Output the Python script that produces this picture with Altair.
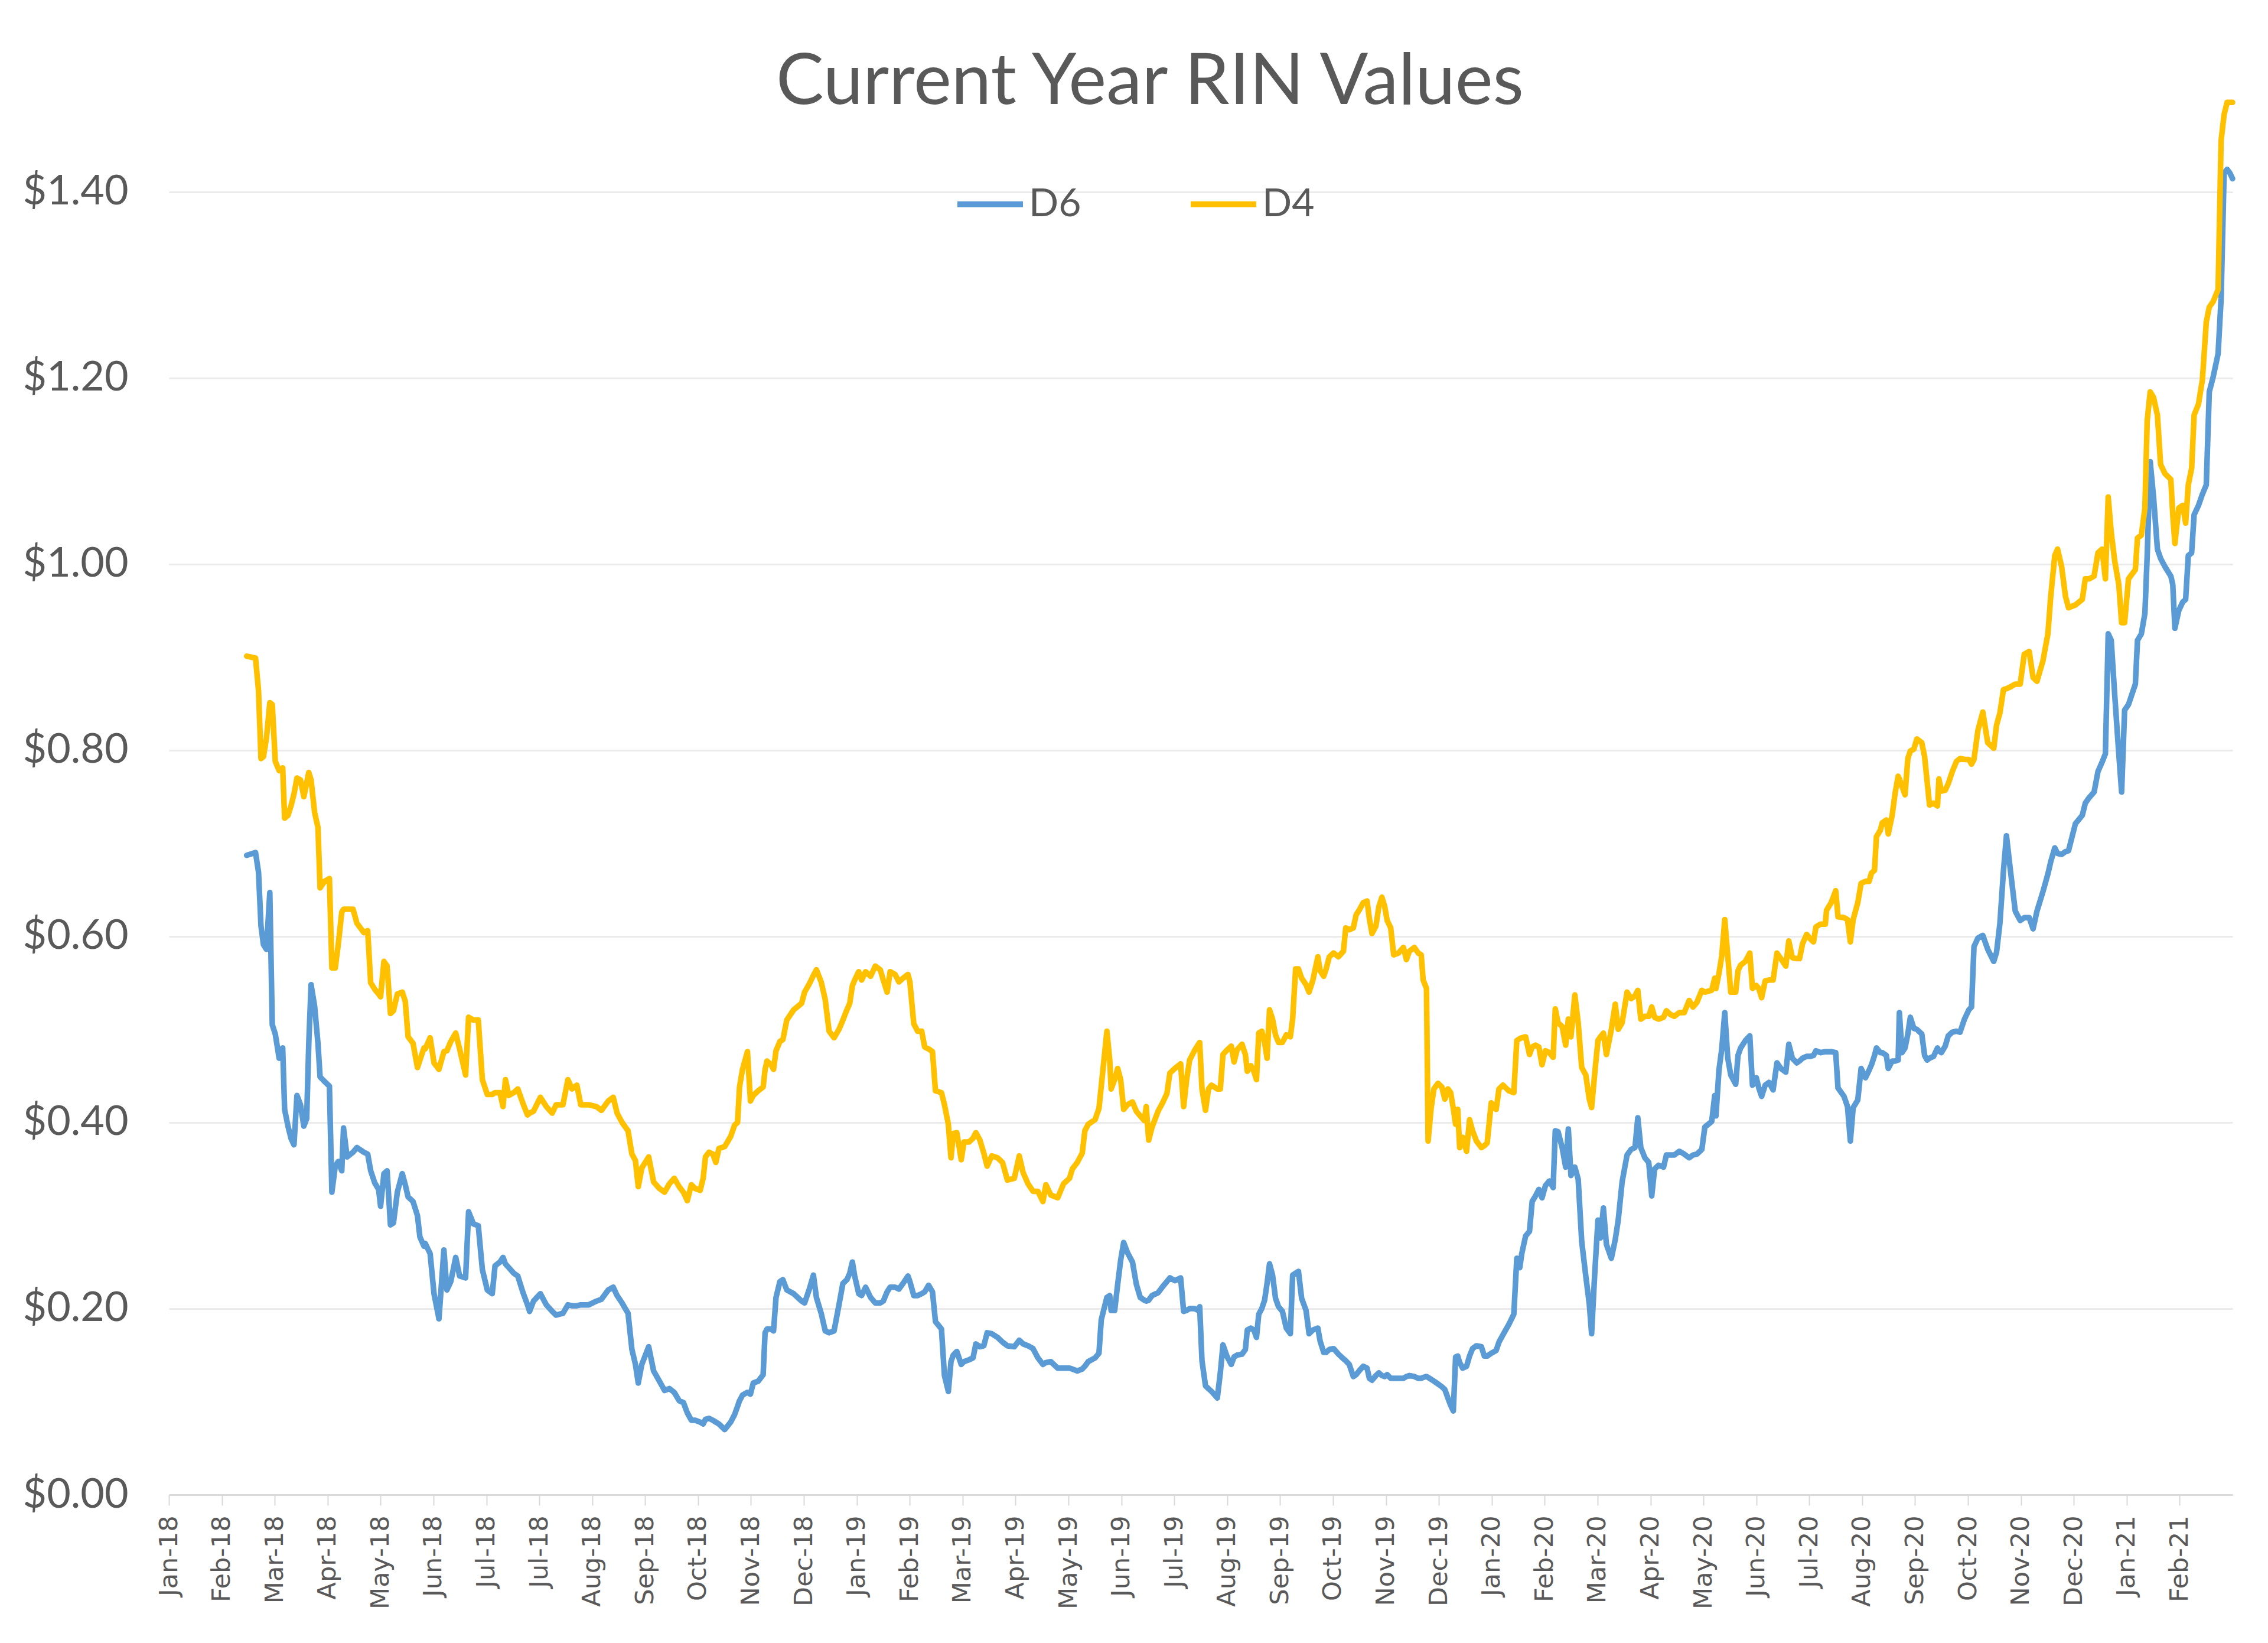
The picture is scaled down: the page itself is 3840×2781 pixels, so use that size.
import altair as alt
import pandas as pd

TITLE = "Current Year RIN Values"
SERIES = ["D6", "D4"]
COLORS = ["#5B9BD5", "#FFC000"]

# Axis labels: one label every 30 days from 2 Jan 2018 (as in the source chart)
TICK_LABELS = ["Jan-18", "Feb-18", "Mar-18", "Apr-18", "May-18", "Jun-18", "Jul-18", "Jul-18",
               "Aug-18", "Sep-18", "Oct-18", "Nov-18", "Dec-18", "Jan-19", "Feb-19", "Mar-19",
               "Apr-19", "May-19", "Jun-19", "Jul-19", "Aug-19", "Sep-19", "Oct-19", "Nov-19",
               "Dec-19", "Jan-20", "Feb-20", "Mar-20", "Apr-20", "May-20", "Jun-20", "Jul-20",
               "Aug-20", "Sep-20", "Oct-20", "Nov-20", "Dec-20", "Jan-21", "Feb-21"]
TICK_STEP_DAYS = 30
AXIS_END_DAY = 1170
Y_TICKS = [0.0, 0.2, 0.4, 0.6, 0.8, 1.0, 1.2, 1.4]

DAY = [
    44.1, 49.1, 50.8, 52.2, 53.6, 55.3, 57.2, 58.6, 60.3, 62.5, 64.5, 65.6, 67.5, 69.2, 70.9, 72.6,
    74.6, 76.5, 78.1, 79.3, 80.6, 82.6, 84.5, 85.7, 88.2, 91.0, 92.4, 94.3, 96.0, 98.0, 99.0, 101.0,
    104.4, 106.6, 110.5, 112.7, 114.4, 116.7, 118.9, 120.0, 121.9, 123.7, 125.6, 127.3, 129.5, 132.3,
    134.0, 135.6, 138.4, 140.9, 142.3, 144.6,
    145.3, 148.1, 150.3, 153.1, 155.9, 157.6, 159.8, 162.6, 164.8, 168.2, 169.9, 172.6, 175.4, 177.7,
    180.5, 183.3, 184.9, 187.7, 189.4, 190.8, 192.7, 195.5, 197.8, 200.6, 203.3, 204.5, 206.7, 210.6,
    214.0, 217.3, 219.5, 223.4, 226.2, 228.5, 231.3, 233.5, 238.0, 242.4, 245.2, 249.1, 251.9, 254.1,
    256.9, 260.3, 262.5, 264.5, 266.1, 268.1, 272.0, 274.8, 278.1, 281.0, 283.7, 286.5, 289.3,
    291.7, 293.9, 296.2, 298.4, 301.2, 302.9, 304.2, 306.2, 308.4, 310.1, 311.8, 315.1, 318.5, 320.7,
    322.4, 323.5, 325.2, 328.0, 329.7, 331.3, 334.1, 336.9, 338.0, 339.1, 341.4, 342.8, 344.2, 346.4,
    348.1, 350.3, 354.2, 358.7, 360.4, 363.1, 365.4, 367.1, 369.8, 372.1, 374.3, 377.1, 379.9, 382.1,
    384.4, 386.0, 387.5, 388.8, 391.1, 392.7, 395.0, 397.8, 400.5, 403.3, 405.0, 407.2, 408.9, 411.7,
    413.9, 416.2, 419.0, 420.1, 422.3, 424.5, 426.8, 428.5, 430.7, 432.9, 434.6,
    438.0, 439.7, 441.9, 443.4, 444.7, 446.7, 449.2, 450.8, 453.6, 455.9, 457.5, 459.8, 462.0, 463.9,
    466.5, 469.8, 472.6, 475.4, 479.3, 482.1, 484.3, 487.1, 489.9, 492.7, 495.5, 497.2, 500.0, 503.9,
    507.2, 510.6, 512.2, 515.0, 517.8, 519.3, 521.2, 525.1, 527.3, 528.6, 531.8, 533.4, 534.2, 536.2,
    537.9, 539.6, 541.3, 543.5, 546.3, 548.5, 550.7, 553.0, 554.1, 555.5, 557.4, 560.8, 563.6, 565.8,
    567.5, 570.3, 573.6, 575.3, 577.0, 578.7, 581.4, 583.7,
    584.4, 585.7, 587.7, 589.4, 591.1, 594.4, 596.1, 597.6, 600.0, 602.3, 603.9, 605.6, 608.4, 610.3,
    611.4, 613.4, 615.1, 616.6, 617.9, 619.6, 621.2, 622.6, 624.0, 625.7, 627.4, 629.1, 631.3, 633.5,
    635.8, 637.1, 638.8, 640.4, 642.2, 644.7, 646.4, 648.6, 651.4, 652.7, 654.7, 656.1, 657.9, 660.3,
    663.1, 665.9, 667.2, 669.2, 671.5, 673.1, 674.8, 677.1, 679.3, 680.6, 682.1, 684.3, 686.0, 687.7,
    689.3, 690.7, 692.7, 694.4, 697.1, 699.9, 701.6, 703.3, 706.1, 708.3, 710.0, 711.1, 713.0, 713.9,
    715.6, 717.2, 719.5, 721.7, 723.4, 725.1, 726.7, 728.2, 729.5,
    730.7, 731.8, 733.5, 735.7, 737.4, 739.1, 741.3, 744.1, 745.8, 747.4, 749.7, 752.5, 754.1, 756.4,
    759.7, 762.5, 764.2, 765.9, 767.0, 769.2, 771.4, 772.9, 774.8, 776.7, 778.5, 780.4, 782.6, 784.8,
    786.0, 787.6, 789.9, 791.9, 793.4, 794.9, 797.1, 799.0, 801.0, 803.3, 805.3, 806.6, 808.3, 810.2,
    811.6, 813.3, 815.0, 817.8, 820.0, 821.7, 823.9, 826.7, 829.0, 831.2, 832.8, 834.5, 836.8, 839.0,
    840.7, 842.3, 844.6, 847.4, 849.0, 851.3, 853.5, 856.3, 859.1, 861.9, 864.1, 866.3, 869.1, 870.8,
    874.7, 876.4,
    877.1, 878.8, 880.4, 882.1, 883.8, 885.5, 888.3, 889.6, 891.1, 893.8, 896.3, 897.8, 900.0, 901.4,
    903.0, 905.0, 907.2, 909.5, 911.7, 913.9, 916.7, 918.4, 920.4, 922.9, 924.5, 926.2, 928.5, 930.7,
    932.4, 933.8, 936.3, 939.1, 939.8, 942.4, 945.0, 946.3, 949.7, 951.7, 953.3, 954.9, 957.5, 959.4,
    961.9, 963.9, 965.3, 967.0, 968.1, 970.3, 971.4, 973.7, 974.8, 977.0, 978.7, 980.4, 981.1, 982.6,
    984.3, 985.9, 987.3, 989.3, 991.0, 993.8, 995.4, 996.8, 998.2, 1000.5, 1002.7, 1003.5, 1004.9,
    1007.1, 1008.8, 1011.1, 1013.5, 1015.5, 1018.0, 1020.5, 1022.0,
    1023.4, 1025.6, 1028.4, 1031.2, 1034.6, 1036.2, 1038.1, 1040.1, 1041.8, 1044.1, 1046.8, 1049.6,
    1051.9, 1054.7, 1056.9, 1059.1, 1062.5, 1065.3, 1066.9, 1069.2, 1070.8, 1073.1, 1075.3, 1077.0,
    1080.9, 1084.8, 1086.5, 1088.7, 1091.5, 1093.7, 1096.0, 1097.9, 1099.5, 1101.2, 1103.2, 1105.5,
    1107.1, 1108.8, 1111.0, 1113.3, 1114.9, 1116.1, 1118.3, 1120.3, 1121.6, 1123.3, 1125.2, 1127.4,
    1129.2, 1131.7, 1135.0, 1136.1, 1137.3, 1139.5, 1141.7, 1143.4, 1144.9, 1146.8, 1148.2, 1150.7,
    1152.9, 1155.1, 1156.8, 1159.0, 1161.8, 1163.5, 1165.2, 1166.9, 1168.5, 1170.0,
]

D6 = [
    0.687, 0.690, 0.669, 0.611, 0.591, 0.586, 0.647, 0.505, 0.495, 0.469, 0.480, 0.414, 0.396, 0.383,
    0.376, 0.429, 0.419, 0.396, 0.404, 0.485, 0.548, 0.525, 0.485, 0.449, 0.444, 0.439, 0.325, 0.353,
    0.358, 0.348, 0.394, 0.363, 0.368, 0.373, 0.368, 0.366, 0.348, 0.335, 0.328, 0.310, 0.345, 0.348,
    0.290, 0.292, 0.325, 0.345, 0.333, 0.320, 0.315, 0.300, 0.277, 0.267,
    0.270, 0.259, 0.216, 0.189, 0.263, 0.220, 0.229, 0.255, 0.235, 0.233, 0.304, 0.291, 0.289, 0.242,
    0.220, 0.216, 0.246, 0.250, 0.255, 0.248, 0.244, 0.238, 0.235, 0.218, 0.204, 0.197, 0.208, 0.216,
    0.204, 0.197, 0.193, 0.195, 0.204, 0.203, 0.203, 0.204, 0.204, 0.208, 0.210, 0.220, 0.223, 0.214,
    0.206, 0.195, 0.156, 0.140, 0.120, 0.140, 0.159, 0.133, 0.122, 0.112, 0.114, 0.110, 0.101,
    0.099, 0.088, 0.080, 0.080, 0.078, 0.076, 0.081, 0.082, 0.080, 0.078, 0.076, 0.070, 0.078, 0.086,
    0.095, 0.101, 0.107, 0.110, 0.108, 0.120, 0.122, 0.129, 0.174, 0.178, 0.178, 0.176, 0.212, 0.229,
    0.231, 0.220, 0.216, 0.208, 0.206, 0.221, 0.236, 0.212, 0.195, 0.176, 0.174, 0.176, 0.204, 0.227,
    0.231, 0.238, 0.250, 0.235, 0.216, 0.214, 0.223, 0.212, 0.206, 0.206, 0.208, 0.218, 0.223, 0.223,
    0.221, 0.227, 0.235, 0.229, 0.214, 0.214, 0.216, 0.218, 0.225, 0.218, 0.186,
    0.178, 0.128, 0.111, 0.143, 0.150, 0.154, 0.140, 0.143, 0.145, 0.147, 0.162, 0.159, 0.160, 0.174,
    0.173, 0.169, 0.164, 0.160, 0.159, 0.166, 0.162, 0.160, 0.157, 0.147, 0.140, 0.142, 0.143, 0.136,
    0.136, 0.136, 0.135, 0.133, 0.135, 0.138, 0.143, 0.147, 0.152, 0.188, 0.212, 0.214, 0.198, 0.198,
    0.226, 0.252, 0.271, 0.260, 0.250, 0.226, 0.212, 0.209, 0.208, 0.209, 0.214, 0.217, 0.224, 0.229,
    0.233, 0.230, 0.233, 0.197, 0.198, 0.200, 0.200, 0.198,
    0.202, 0.144, 0.117, 0.114, 0.111, 0.104, 0.131, 0.161, 0.148, 0.140, 0.148, 0.150, 0.151, 0.156,
    0.177, 0.179, 0.177, 0.169, 0.194, 0.200, 0.209, 0.227, 0.248, 0.236, 0.211, 0.202, 0.197, 0.179,
    0.173, 0.236, 0.238, 0.240, 0.211, 0.198, 0.173, 0.177, 0.179, 0.165, 0.153, 0.153, 0.156, 0.157,
    0.151, 0.146, 0.144, 0.140, 0.127, 0.129, 0.133, 0.138, 0.136, 0.125, 0.123, 0.128, 0.131, 0.128,
    0.127, 0.129, 0.125, 0.125, 0.125, 0.125, 0.127, 0.128, 0.127, 0.125, 0.125, 0.126, 0.127, 0.126,
    0.124, 0.122, 0.119, 0.116, 0.113, 0.104, 0.096, 0.090, 0.148,
    0.149, 0.142, 0.136, 0.138, 0.149, 0.157, 0.160, 0.159, 0.149, 0.149, 0.152, 0.155, 0.164, 0.172,
    0.183, 0.194, 0.254, 0.244, 0.259, 0.278, 0.283, 0.315, 0.321, 0.328, 0.319, 0.332, 0.337, 0.330,
    0.391, 0.390, 0.373, 0.352, 0.393, 0.343, 0.352, 0.339, 0.272, 0.235, 0.205, 0.173, 0.235, 0.295,
    0.276, 0.308, 0.269, 0.254, 0.274, 0.295, 0.336, 0.365, 0.371, 0.373, 0.405, 0.373, 0.362, 0.357,
    0.321, 0.350, 0.354, 0.352, 0.365, 0.365, 0.365, 0.369, 0.366, 0.362, 0.365, 0.366, 0.371, 0.395,
    0.401, 0.429,
    0.407, 0.456, 0.479, 0.518, 0.469, 0.451, 0.441, 0.472, 0.480, 0.488, 0.493, 0.440, 0.448, 0.437,
    0.428, 0.440, 0.443, 0.435, 0.464, 0.458, 0.454, 0.484, 0.469, 0.464, 0.466, 0.469, 0.471, 0.471,
    0.472, 0.477, 0.475, 0.476, 0.476, 0.476, 0.475, 0.437, 0.428, 0.417, 0.380, 0.416, 0.424, 0.458,
    0.448, 0.456, 0.462, 0.472, 0.480, 0.475, 0.475, 0.472, 0.458, 0.466, 0.466, 0.467, 0.518, 0.475,
    0.480, 0.495, 0.513, 0.501, 0.500, 0.495, 0.472, 0.467, 0.469, 0.471, 0.480, 0.477, 0.475, 0.482,
    0.493, 0.497, 0.498, 0.497, 0.511, 0.521, 0.524,
    0.589, 0.598, 0.601, 0.586, 0.573, 0.583, 0.614, 0.670, 0.708, 0.670, 0.627, 0.617, 0.620, 0.620,
    0.608, 0.627, 0.648, 0.667, 0.680, 0.695, 0.689, 0.688, 0.691, 0.692, 0.721, 0.730, 0.743, 0.749,
    0.755, 0.777, 0.787, 0.796, 0.925, 0.918, 0.859, 0.796, 0.755, 0.843, 0.849, 0.862, 0.871, 0.918,
    0.925, 0.947, 1.009, 1.110, 1.072, 1.016, 1.006, 0.997, 0.987, 0.978, 0.931, 0.950, 0.959, 0.962,
    1.009, 1.012, 1.053, 1.063, 1.075, 1.085, 1.185, 1.201, 1.226, 1.285, 1.420, 1.424, 1.420, 1.414,
]

D4 = [
    0.901, 0.899, 0.864, 0.791, 0.793, 0.813, 0.851, 0.849, 0.788, 0.778, 0.781, 0.727, 0.730, 0.740,
    0.753, 0.770, 0.768, 0.750, 0.765, 0.776, 0.768, 0.733, 0.717, 0.652, 0.659, 0.662, 0.566, 0.566,
    0.591, 0.626, 0.629, 0.629, 0.629, 0.614, 0.604, 0.606, 0.550, 0.543, 0.538, 0.535, 0.573, 0.568,
    0.517, 0.520, 0.538, 0.540, 0.530, 0.492, 0.485, 0.459, 0.467, 0.480,
    0.479, 0.491, 0.464, 0.457, 0.476, 0.477, 0.487, 0.496, 0.479, 0.451, 0.513, 0.510, 0.510, 0.446,
    0.430, 0.430, 0.432, 0.432, 0.417, 0.446, 0.429, 0.432, 0.436, 0.421, 0.408, 0.410, 0.412, 0.427,
    0.417, 0.410, 0.419, 0.419, 0.446, 0.436, 0.440, 0.419, 0.419, 0.417, 0.413, 0.423, 0.427, 0.410,
    0.400, 0.391, 0.366, 0.359, 0.331, 0.351, 0.363, 0.336, 0.329, 0.325, 0.334, 0.340, 0.331,
    0.325, 0.316, 0.333, 0.329, 0.327, 0.340, 0.363, 0.368, 0.366, 0.357, 0.372, 0.374, 0.385, 0.397,
    0.400, 0.438, 0.457, 0.476, 0.423, 0.429, 0.434, 0.438, 0.457, 0.466, 0.462, 0.457, 0.477, 0.487,
    0.489, 0.510, 0.521, 0.528, 0.540, 0.549, 0.558, 0.564, 0.551, 0.532, 0.498, 0.491, 0.500, 0.510,
    0.521, 0.528, 0.547, 0.553, 0.562, 0.553, 0.562, 0.557, 0.568, 0.564, 0.553, 0.540, 0.562, 0.559,
    0.551, 0.555, 0.559, 0.551, 0.506, 0.498, 0.498, 0.481, 0.479, 0.476, 0.434,
    0.432, 0.419, 0.398, 0.362, 0.388, 0.389, 0.360, 0.379, 0.379, 0.383, 0.389, 0.381, 0.367, 0.353,
    0.364, 0.362, 0.357, 0.338, 0.340, 0.364, 0.346, 0.334, 0.326, 0.326, 0.315, 0.333, 0.322, 0.319,
    0.334, 0.340, 0.350, 0.357, 0.367, 0.391, 0.398, 0.403, 0.415, 0.439, 0.498, 0.467, 0.436, 0.446,
    0.458, 0.446, 0.414, 0.419, 0.422, 0.412, 0.407, 0.402, 0.417, 0.381, 0.395, 0.412, 0.422, 0.431,
    0.453, 0.458, 0.463, 0.417, 0.446, 0.467, 0.477, 0.484,
    0.486, 0.436, 0.413, 0.436, 0.440, 0.436, 0.436, 0.473, 0.478, 0.482, 0.465, 0.478, 0.484, 0.473,
    0.455, 0.461, 0.455, 0.446, 0.496, 0.498, 0.486, 0.469, 0.521, 0.511, 0.494, 0.486, 0.486, 0.494,
    0.492, 0.511, 0.565, 0.565, 0.555, 0.548, 0.540, 0.553, 0.578, 0.563, 0.557, 0.565, 0.578, 0.582,
    0.578, 0.584, 0.609, 0.607, 0.609, 0.623, 0.628, 0.636, 0.638, 0.619, 0.603, 0.611, 0.632, 0.642,
    0.632, 0.617, 0.609, 0.580, 0.582, 0.588, 0.575, 0.584, 0.588, 0.582, 0.580, 0.553, 0.544, 0.380,
    0.415, 0.436, 0.442, 0.438, 0.425, 0.436, 0.432, 0.415, 0.398,
    0.414, 0.373, 0.384, 0.369, 0.403, 0.391, 0.380, 0.373, 0.375, 0.378, 0.421, 0.414, 0.436, 0.440,
    0.434, 0.432, 0.488, 0.490, 0.491, 0.492, 0.473, 0.481, 0.483, 0.481, 0.462, 0.477, 0.475, 0.470,
    0.522, 0.507, 0.503, 0.483, 0.511, 0.492, 0.537, 0.507, 0.459, 0.451, 0.425, 0.416, 0.451, 0.488,
    0.492, 0.496, 0.473, 0.500, 0.527, 0.500, 0.507, 0.540, 0.533, 0.536, 0.542, 0.511, 0.514, 0.514,
    0.524, 0.513, 0.511, 0.513, 0.520, 0.516, 0.514, 0.518, 0.518, 0.531, 0.524, 0.529, 0.542, 0.540,
    0.542, 0.555,
    0.544, 0.560, 0.579, 0.618, 0.579, 0.540, 0.540, 0.563, 0.569, 0.573, 0.582, 0.544, 0.547, 0.544,
    0.534, 0.552, 0.553, 0.553, 0.582, 0.576, 0.568, 0.595, 0.577, 0.576, 0.576, 0.592, 0.602, 0.597,
    0.594, 0.610, 0.613, 0.613, 0.628, 0.636, 0.649, 0.621, 0.620, 0.618, 0.594, 0.618, 0.636, 0.657,
    0.659, 0.659, 0.668, 0.671, 0.707, 0.714, 0.722, 0.725, 0.710, 0.730, 0.754, 0.772, 0.769, 0.761,
    0.752, 0.791, 0.799, 0.801, 0.812, 0.808, 0.793, 0.767, 0.741, 0.743, 0.740, 0.769, 0.756, 0.757,
    0.764, 0.777, 0.788, 0.791, 0.790, 0.790, 0.785,
    0.790, 0.821, 0.841, 0.808, 0.802, 0.827, 0.840, 0.865, 0.866, 0.868, 0.871, 0.871, 0.903, 0.906,
    0.878, 0.874, 0.896, 0.925, 0.965, 1.009, 1.016, 0.997, 0.965, 0.953, 0.956, 0.962, 0.984, 0.984,
    0.987, 1.012, 1.016, 0.984, 1.072, 1.034, 1.003, 0.978, 0.937, 0.937, 0.984, 0.990, 0.994, 1.028,
    1.031, 1.060, 1.154, 1.185, 1.179, 1.160, 1.107, 1.097, 1.091, 1.053, 1.022, 1.060, 1.063, 1.044,
    1.085, 1.103, 1.160, 1.172, 1.198, 1.260, 1.276, 1.282, 1.295, 1.455, 1.483, 1.496, 1.496, 1.496,
]

assert len(DAY) == len(D6) == len(D4), (len(DAY), len(D6), len(D4))

rows = []
for name, vals in (("D6", D6), ("D4", D4)):
    for d, v in zip(DAY, vals):
        rows.append({"day": d, "series": name, "price": v})
df = pd.DataFrame(rows)

tick_days = [i * TICK_STEP_DAYS for i in range(len(TICK_LABELS))]
label_array = "[" + ",".join("'" + t + "'" for t in TICK_LABELS) + "]"
label_expr = label_array + "[round(datum.value / " + str(TICK_STEP_DAYS) + ")]"

GREY_TEXT = "#595959"

chart = (
    alt.Chart(df)
    .mark_line(strokeWidth=9.5, strokeJoin="round", strokeCap="round")
    .encode(
        x=alt.X(
            "day:Q",
            scale=alt.Scale(domain=[0, AXIS_END_DAY], nice=False, zero=False),
            axis=alt.Axis(
                values=tick_days, labelExpr=label_expr, title=None, grid=False,
                labelAngle=270, labelAlign="right", labelBaseline="middle",
                labelFont="DejaVu Sans", labelFontSize=43, labelColor=GREY_TEXT,
                labelPadding=17, tickSize=18, tickColor="#D9D9D9", tickWidth=2,
                domainColor="#D9D9D9", domainWidth=3,
                labelOverlap=False, labelFlush=False, labelBound=False,
            ),
        ),
        y=alt.Y(
            "price:Q",
            scale=alt.Scale(domain=[0, 1.5], nice=False, zero=True),
            axis=alt.Axis(
                values=Y_TICKS, format="$.2f", title=None,
                labelFont="Lato", labelFontSize=70, labelColor=GREY_TEXT, labelPadding=69,
                ticks=False, domain=False, grid=True, gridColor="#EBEBEB", gridWidth=3,
            ),
        ),
        color=alt.Color(
            "series:N",
            scale=alt.Scale(domain=SERIES, range=COLORS),
            legend=alt.Legend(
                title=None, orient="none", legendX=1330, legendY=118, direction="horizontal",
                symbolType="stroke", symbolSize=12321, symbolStrokeWidth=10,
                labelFont="Lato", labelFontSize=66, labelColor=GREY_TEXT, labelOffset=5,
                columnPadding=165, padding=0,
            ),
        ),
    )
    .properties(
        width=3494,
        height=2363,
        title=alt.TitleParams(
            TITLE, font="Lato", fontSize=121, fontWeight="normal", color=GREY_TEXT,
            anchor="middle", frame="group", dx=-86, offset=0, dy=130, baseline="alphabetic",
        ),
        autosize=alt.AutoSizeParams(type="none"),
        padding={"left": 278, "top": 159, "right": 50, "bottom": 240},
        background="white",
    )
    .configure_view(stroke=None)
)

chart.save("out.html", embed_options={"renderer": "svg", "actions": False})
